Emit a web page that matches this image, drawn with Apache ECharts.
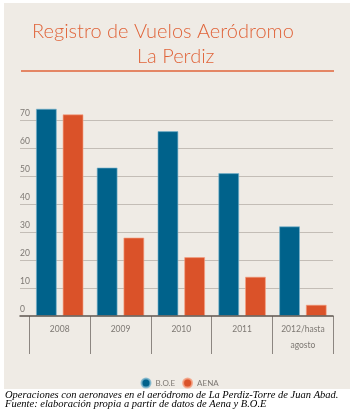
<!DOCTYPE html>
<html lang="es">
  <head>
    <meta charset="UTF-8" />
    <script src="https://cdn.jsdelivr.net/npm/echarts@6/dist/echarts.min.js"></script>
    <title>Registro de Vuelos Aeródromo La Perdiz</title>
    <style>
      html, body { margin: 0; padding: 0; background: #fff; }
      #app { width: 353px; height: 415px; }
    </style>
  </head>
  <body>
    <div id="app"></div>
    <script>
      // datos
      const years = ["2008", "2009", "2010", "2011", "2012/hasta\nagosto"];
      const boe = [74, 53, 66, 51, 32];
      const aena = [72, 28, 21, 14, 4];
      const yTicks = [0, 10, 20, 30, 40, 50, 60, 70];

      const blue = "#00628b";
      const orange = "#da5229";
      const beige = "#efebe5";
      const labelGray = "#7d7873";

      const chart = echarts.init(document.getElementById("app"));

      chart.setOption({
        backgroundColor: "#fff",
        animation: false,
        graphic: [
          {
            type: "rect",
            shape: { x: 4, y: 3, width: 346, height: 386 },
            style: { fill: beige },
            z: -10,
          },
          {
            type: "text",
            left: 32,
            top: 22,
            style: {
              text: "Registro de Vuelos Aeródromo",
              fill: "#e0643a",
              font: "300 20px Lato",
            },
          },
          {
            type: "text",
            left: 137,
            top: 47,
            style: {
              text: "La Perdiz",
              fill: "#e0643a",
              font: "300 20px Lato",
            },
          },
          {
            type: "line",
            shape: { x1: 21, y1: 71, x2: 334, y2: 71 },
            style: { stroke: "#e0643a", lineWidth: 1.5 },
          },
          {
            type: "text",
            left: 5,
            top: 390,
            style: {
              text:
                "Operaciones con aeronaves en el aeródromo de La Perdiz-Torre de Juan Abad.\nFuente: elaboración propia a partir de datos de Aena y B.O.E",
              fill: "#000",
              font: "italic 10.5px 'Liberation Serif'",
              lineHeight: 9,
            },
          },
        ],
        legend: {
          left: 135.5,
          top: 372.5,
          icon: "circle",
          itemWidth: 9,
          itemHeight: 9,
          itemGap: 7,
          textStyle: { color: labelGray, fontSize: 8, fontFamily: "Lato" },
          data: ["B.O.E", "AENA"],
        },
        grid: [
          { left: 20, right: 20, top: 92, bottom: 99 },
          { left: 29.3, right: 19.7, top: 92, bottom: 99 },
        ],
        xAxis: [
          {
            gridIndex: 0,
            type: "value",
            min: 0,
            max: 1,
            axisLabel: { show: false },
            axisTick: { show: false },
            splitLine: { show: false },
            axisLine: { show: true, lineStyle: { color: "#5e564f", width: 1.5 } },
            z: 5,
          },
          {
            gridIndex: 1,
            type: "category",
            data: years,
            axisLine: { show: false },
            axisTick: { show: true, length: 38, lineStyle: { color: "#8c8681", width: 1 } },
            axisLabel: {
              color: labelGray,
              fontSize: 8.5,
              fontFamily: "Lato",
              lineHeight: 16.5,
              margin: 5,
            },
          },
        ],
        yAxis: [
          {
            gridIndex: 0,
            type: "value",
            min: 0,
            max: 80,
            interval: 10,
            axisLine: { show: false },
            axisTick: { show: false },
            axisLabel: {
              inside: true,
              margin: 0,
              verticalAlign: "bottom",
              padding: [0, 0, 2, 0],
              color: labelGray,
              fontSize: 8.5,
              fontFamily: "Lato",
              showMaxLabel: false,
              formatter: (v) => (yTicks.includes(v) ? String(v) : ""),
            },
            splitLine: {
              show: true,
              showMinLine: false,
              showMaxLine: false,
              lineStyle: { color: "#c3bdb6", width: 1.2 },
            },
          },
          {
            gridIndex: 1,
            type: "value",
            min: 0,
            max: 80,
            interval: 10,
            show: false,
            splitLine: { show: false },
          },
        ],
        series: [
          {
            name: "B.O.E",
            type: "bar",
            xAxisIndex: 1,
            yAxisIndex: 1,
            data: boe,
            barWidth: 20.7,
            barGap: "29%",
            itemStyle: { color: blue, borderColor: "rgba(120,180,205,0.8)", borderWidth: 0.8 },
            z: 3,
          },
          {
            name: "AENA",
            type: "bar",
            xAxisIndex: 1,
            yAxisIndex: 1,
            data: aena,
            barWidth: 20.7,
            barGap: "29%",
            itemStyle: { color: orange, borderColor: "rgba(245,160,130,0.8)", borderWidth: 0.8 },
            z: 3,
          },
        ],
      });
    </script>
  </body>
</html>
